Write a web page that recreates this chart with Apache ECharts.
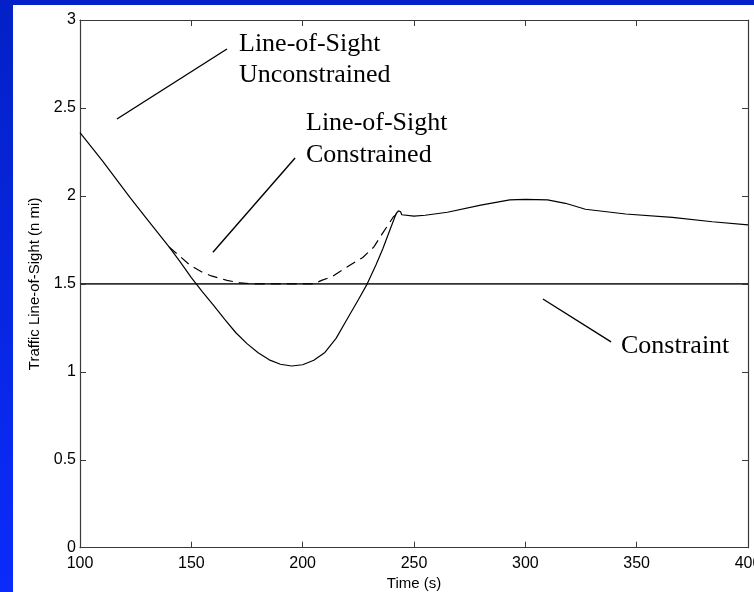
<!DOCTYPE html>
<html>
<head>
<meta charset="utf-8">
<script src="https://cdn.jsdelivr.net/npm/echarts@6/dist/echarts.min.js"></script>
<style>
html,body{margin:0;padding:0;width:754px;height:592px;overflow:hidden;}
#chart{width:754px;height:592px;}
</style>
</head>
<body>
<div id="chart"></div>
<script>
// ---- data ----
var xTicks = [100, 150, 200, 250, 300, 350, 400];
var yTicks = [0, 0.5, 1, 1.5, 2, 2.5, 3];

var unconTime  = [100, 110, 122.5, 130, 140, 145, 150, 155, 160, 165, 170, 175, 180, 185, 190, 195, 200, 205, 210, 215, 220, 225, 229, 233, 236, 239, 242, 243, 244, 244.5, 245, 250, 255, 265, 280, 293, 300, 310, 318, 327, 345, 366, 384, 400];
var unconValue = [2.36, 2.20, 1.99, 1.87, 1.71, 1.625, 1.535, 1.455, 1.378, 1.298, 1.222, 1.16, 1.108, 1.068, 1.043, 1.033, 1.04, 1.066, 1.11, 1.19, 1.30, 1.41, 1.50, 1.61, 1.70, 1.80, 1.90, 1.915, 1.91, 1.893, 1.885, 1.885, 1.89, 1.907, 1.948, 1.977, 1.98, 1.977, 1.958, 1.924, 1.897, 1.878, 1.853, 1.835];

var conTime  = [140, 145, 149.4, 155, 159, 166, 172, 178, 205, 208.5, 213, 218, 223, 227, 232, 236, 240.7, 242.5];
var conValue = [1.71, 1.655, 1.606, 1.565, 1.545, 1.52, 1.505, 1.50, 1.50, 1.52, 1.54, 1.58, 1.62, 1.65, 1.71, 1.79, 1.88, 1.90];

var constraintTime  = [100, 400];
var constraintValue = [1.5, 1.5];

// annotation leader lines (data coordinates)
var annUnconTime = [116.6, 166.0], annUnconValue = [2.437, 2.835];
var annConTime   = [159.7, 196.6], annConValue   = [1.680, 2.215];
var annCstTime   = [307.9, 338.5], annCstValue   = [1.414, 1.170];

function zip(a, b) { return a.map(function (v, i) { return [v, b[i]]; }); }

var chart = echarts.init(document.getElementById('chart'), null, {renderer: 'canvas'});

var axisColor = '#3a3a3a';
var labelFont = 'Liberation Sans';

function lineSeries(name, t, v, opts) {
  return Object.assign({
    name: name, type: 'line', data: zip(t, v), symbol: 'none', smooth: false,
    animation: false, silent: true, z: 3,
    lineStyle: {color: '#000', width: 1.2}
  }, opts || {});
}

var option = {
  animation: false,
  backgroundColor: {
    type: 'linear', x: 0, y: 0, x2: 0, y2: 1,
    colorStops: [{offset: 0, color: '#0321c6'}, {offset: 1, color: '#0b2bfc'}]
  },
  graphic: [
    {type: 'rect', z: -100, shape: {x: 13, y: 5, width: 741, height: 587}, style: {fill: '#ffffff'}},
    {type: 'text', z: 10, x: 239, y: 44, style: {text: 'Line-of-Sight', font: '26px "Liberation Serif"', fill: '#000', verticalAlign: 'middle'}},
    {type: 'text', z: 10, x: 239, y: 75, style: {text: 'Unconstrained', font: '26px "Liberation Serif"', fill: '#000', verticalAlign: 'middle'}},
    {type: 'text', z: 10, x: 306, y: 123, style: {text: 'Line-of-Sight', font: '26px "Liberation Serif"', fill: '#000', verticalAlign: 'middle'}},
    {type: 'text', z: 10, x: 306, y: 155, style: {text: 'Constrained', font: '26px "Liberation Serif"', fill: '#000', verticalAlign: 'middle'}},
    {type: 'text', z: 10, x: 621, y: 346, style: {text: 'Constraint', font: '26px "Liberation Serif"', fill: '#000', verticalAlign: 'middle'}}
  ],
  grid: {left: 80, top: 20, right: 6, bottom: 44.3, containLabel: false, outerBoundsMode: 'none'},
  xAxis: [
    {
      type: 'value', min: 100, max: 400, interval: 50, position: 'bottom',
      name: 'Time (s)', nameLocation: 'middle', nameGap: 29,
      nameTextStyle: {fontFamily: labelFont, fontSize: 15, color: '#000'},
      axisLine: {show: true, onZero: false, lineStyle: {color: axisColor, width: 1.2}},
      axisTick: {show: true, inside: true, length: 6, lineStyle: {color: axisColor}},
      axisLabel: {margin: 8, fontFamily: labelFont, fontSize: 16, color: '#000'},
      splitLine: {show: false}
    },
    {
      type: 'value', min: 100, max: 400, interval: 50, position: 'top',
      axisLine: {show: true, onZero: false, lineStyle: {color: axisColor, width: 1.2}},
      axisTick: {show: true, inside: true, length: 6, lineStyle: {color: axisColor}},
      axisLabel: {show: false}, splitLine: {show: false}
    }
  ],
  yAxis: [
    {
      type: 'value', min: 0, max: 3, interval: 0.5, position: 'left',
      name: 'Traffic Line-of-Sight (n mi)', nameLocation: 'middle', nameGap: 38,
      nameTextStyle: {fontFamily: labelFont, fontSize: 15, color: '#000'},
      axisLine: {show: true, onZero: false, lineStyle: {color: axisColor, width: 1.2}},
      axisTick: {show: true, inside: true, length: 6, lineStyle: {color: axisColor}},
      axisLabel: {margin: 4, fontFamily: labelFont, fontSize: 16, color: '#000'},
      splitLine: {show: false}
    },
    {
      type: 'value', min: 0, max: 3, interval: 0.5, position: 'right',
      axisLine: {show: true, onZero: false, lineStyle: {color: axisColor, width: 1.2}},
      axisTick: {show: true, inside: true, length: 6, lineStyle: {color: axisColor}},
      axisLabel: {show: false}, splitLine: {show: false}
    }
  ],
  series: [
    lineSeries('Constraint', constraintTime, constraintValue, {lineStyle: {color: '#333', width: 1.6}}),
    lineSeries('Line-of-Sight Unconstrained', unconTime, unconValue),
    lineSeries('Line-of-Sight Constrained', conTime, conValue, {lineStyle: {color: '#000', width: 1.2, type: [10, 6]}}),
    lineSeries('annUncon', annUnconTime, annUnconValue, {lineStyle: {color: '#000', width: 1.4}}),
    lineSeries('annCon', annConTime, annConValue, {lineStyle: {color: '#000', width: 1.4}}),
    lineSeries('annCst', annCstTime, annCstValue, {lineStyle: {color: '#000', width: 1.4}})
  ]
};
chart.setOption(option);
</script>
</body>
</html>
